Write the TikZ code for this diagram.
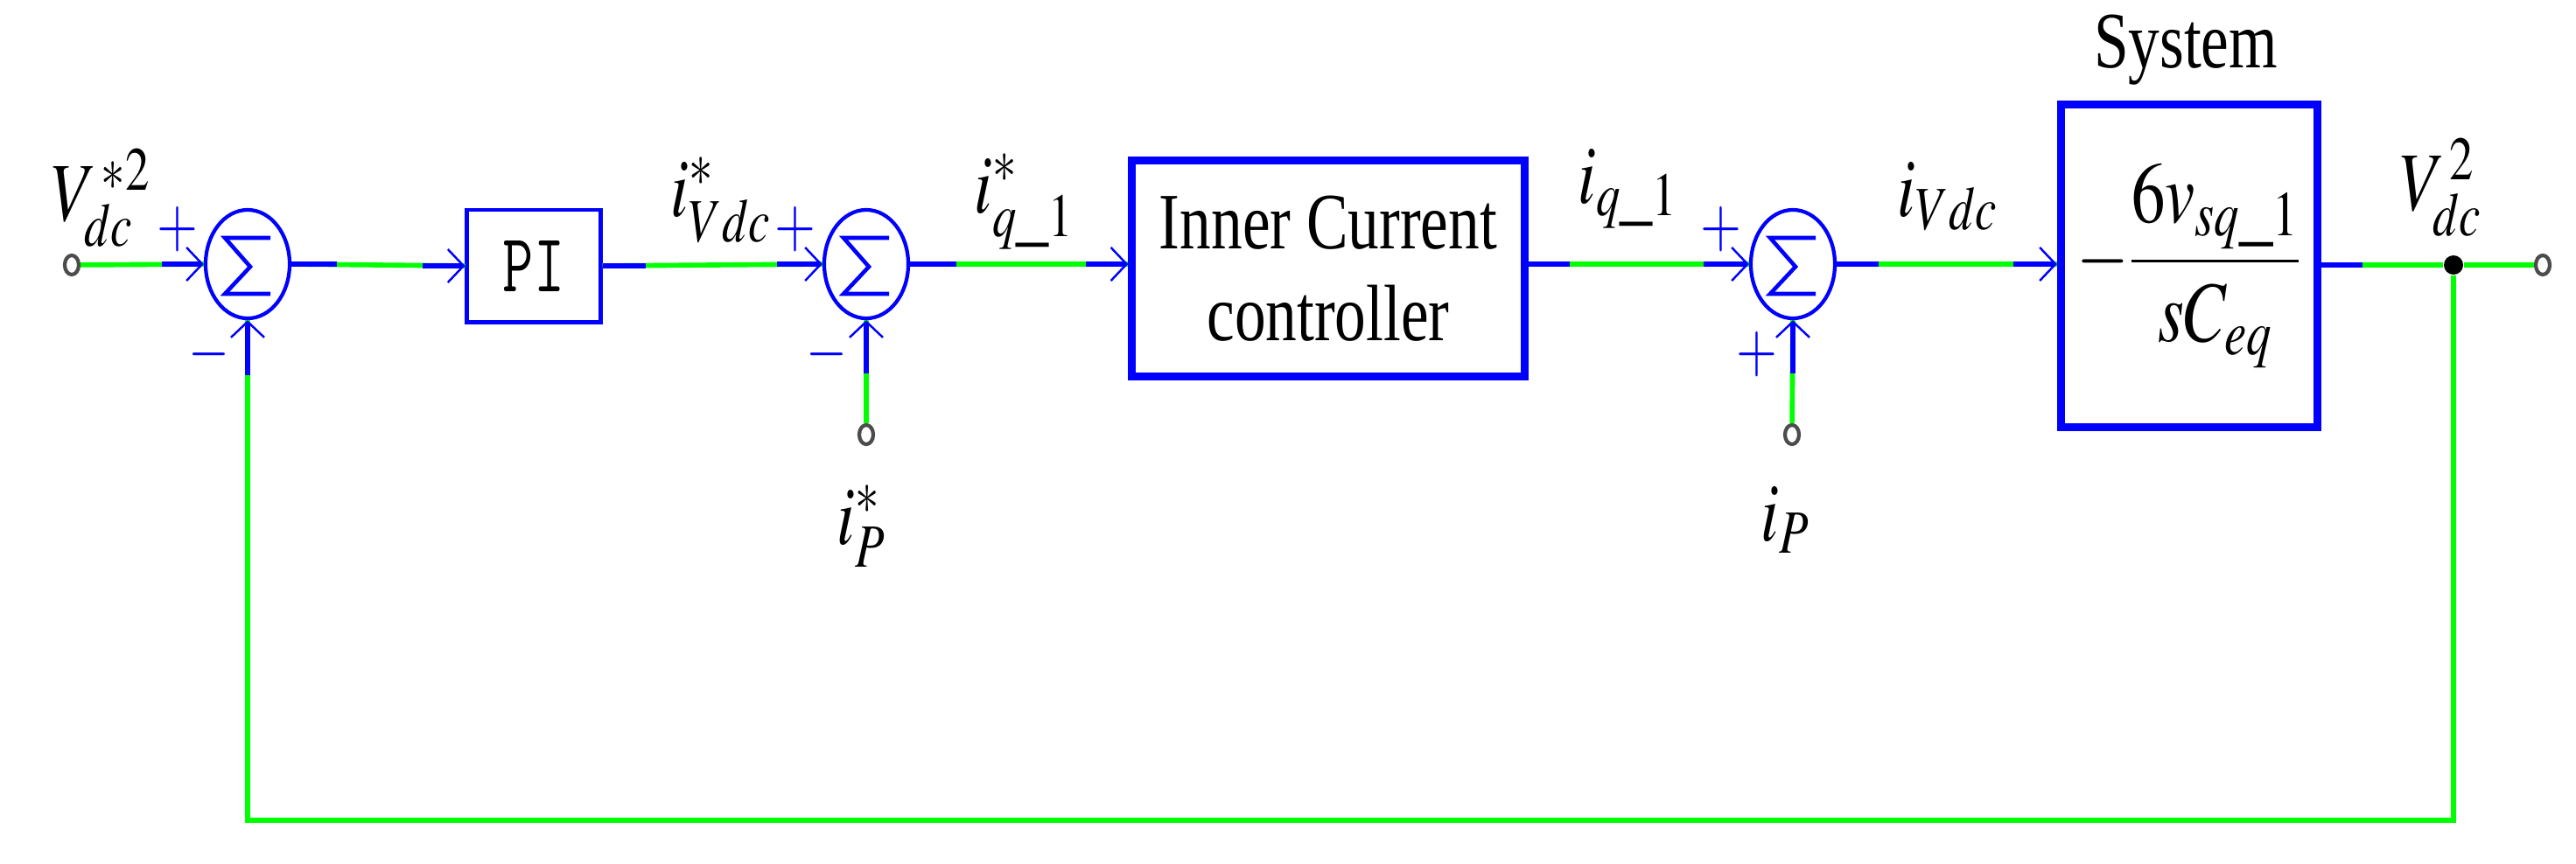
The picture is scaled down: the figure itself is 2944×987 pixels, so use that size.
\documentclass[tikz,border=0pt]{standalone}
\usepackage{mathptmx}
\usepackage{fontspec}
\setmainfont{Liberation Serif}
\usepackage{graphicx}
\usetikzlibrary{shapes.geometric,arrows.meta,calc}
\definecolor{pblue}{RGB}{0,0,255}
\definecolor{pgreen}{RGB}{0,255,0}
\newcommand\hsq[1]{\scalebox{0.78}[1]{#1}}
\tikzset{
  bl/.style={draw=pblue, line width=1.6pt},
  gr/.style={draw=pgreen, line width=1.6pt},
  arr/.style={-{Straight Barb[length=0.18cm,width=0.38cm,line width=0.7pt]}},
  sumnode/.style={ellipse, draw=pblue, line width=1.2pt, minimum width=0.96cm, minimum height=1.24cm, inner sep=0pt},
  smallbox/.style={rectangle, draw=pblue, line width=1.4pt, minimum width=1.52cm, minimum height=1.28cm, inner sep=0pt},
  bigbox/.style={rectangle, draw=pblue, line width=2.6pt, inner sep=0pt},
  term/.style={ellipse, draw=black!70, line width=1.2pt, fill=white, minimum width=0.16cm, minimum height=0.22cm, inner sep=0pt},
  junc/.style={circle, fill=black, minimum size=0.22cm, inner sep=0pt},
  lbl/.style={inner sep=0pt, font=\fontsize{27}{32}\selectfont},
  txt/.style={inner sep=0pt, font=\fontsize{26}{30}\selectfont},
  sgn/.style={inner sep=0pt, text=pblue, font=\fontsize{22}{26}\selectfont},
  sigma/.style={draw=pblue, line width=1.3pt, line join=miter},
}
\begin{document}
\begin{tikzpicture}[x=0.01cm, y=-0.01cm]
\useasboundingbox (0,0) rectangle (2944,987);

% blocks
\node[term] (in1) at (82,303) {};
\node[sumnode] (s1) at (283,302) {};
\node[smallbox, font=\fontsize{27}{30}\selectfont] (pi) at (610,304) {\scalebox{0.72}[1]{\ttfamily PI}};
\node[sumnode] (s2) at (990,302) {};
\node[bigbox, txt, align=center, minimum width=4.48cm, minimum height=2.47cm] (icc) at (1518,307) {\hsq{Inner Current}\\\hsq{controller}};
\node[sumnode] (s3) at (2049,302) {};
\node[bigbox, minimum width=2.93cm, minimum height=3.69cm, font=\fontsize{28}{32}\selectfont] (sys) at (2502,304) {\hsq{$\displaystyle -\frac{6v_{sq\_1}}{sC_{eq}}$}};
\node[junc] (dot) at (2804,303) {};
\node[term] (out) at (2906,303) {};
\node[term] (in2) at (990,497) {};
\node[term] (in3) at (2048,497) {};
\coordinate (c1) at (2804,938);
\coordinate (c2) at (283,938);

% sigma symbols
\foreach \s in {s1,s2,s3}{
  \draw[sigma] ([shift={(26,-30)}]\s.center) -- ([shift={(-26,-30)}]\s.center) -- ([shift={(3,3)}]\s.center) -- ([shift={(-26,34)}]\s.center) -- ([shift={(26,34)}]\s.center);
}

% connections
\draw[gr] (in1) -- (s1.west);
\draw[bl,arr] ($(s1.west)+(-48,0)$) -- (s1.west);

\draw[gr] (s1.east) -- (pi.west);
\draw[bl] (s1.east) -- ++(52,0);
\draw[bl,arr] ($(pi.west)+(-48,0)$) -- (pi.west);

\draw[gr] (pi.east) -- (s2.west);
\draw[bl] (pi.east) -- ++(49,0);
\draw[bl,arr] ($(s2.west)+(-52,0)$) -- (s2.west);

\draw[gr] (s2.east) -- (icc.west |- s2.east);
\draw[bl] (s2.east) -- ++(53,0);
\draw[bl,arr] ($(icc.west |- s2.east)+(-48,0)$) -- (icc.west |- s2.east);

\draw[gr] (icc.east |- s3.west) -- (s3.west);
\draw[bl] (icc.east |- s3.west) -- ++(47,0);
\draw[bl,arr] ($(s3.west)+(-52,0)$) -- (s3.west);

\draw[gr] (s3.east) -- (sys.west |- s3.east);
\draw[bl] (s3.east) -- ++(48,0);
\draw[bl,arr] ($(sys.west |- s3.east)+(-50,0)$) -- (sys.west |- s3.east);

\draw[gr] (sys.east |- dot) -- (dot);
\draw[bl] (sys.east |- dot) -- ++(47,0);
\draw[gr] (dot) -- (out);

\draw[gr] (dot) -- (c1) -- (c2) -- (s1.south);
\draw[bl,arr] ($(s1.south)+(0,63)$) -- (s1.south);

\draw[gr] (in2) -- (s2.south);
\draw[bl,arr] ($(s2.south)+(0,61)$) -- (s2.south);
\draw[gr] (in3) -- (s3.south);
\draw[bl,arr] ($(s3.south)+(0,61)$) -- (s3.south);

% signs
\node[sgn] (p1) at ([shift={(-80,-40)}]s1.center) {\hsq{$+$}};
\node[sgn] (m1) at ([shift={(-44,103)}]s1.center) {\hsq{$-$}};
\node[sgn] (p2) at ([shift={(-81,-40)}]s2.center) {\hsq{$+$}};
\node[sgn] (m2) at ([shift={(-45,103)}]s2.center) {\hsq{$-$}};
\node[sgn] (p3) at ([shift={(-82,-40)}]s3.center) {\hsq{$+$}};
\node[sgn] (p4) at ([shift={(-41,103)}]s3.center) {\hsq{$+$}};

% labels
\node[lbl, anchor=base west] (lvref) at (58,252) {\hsq{$V_{dc}^{\,*2}$}};
\node[lbl, anchor=base west] (livdcs) at (766,247) {\hsq{$i^{*}_{Vdc}$}};
\node[lbl, anchor=base west] (liqs) at (1113,243) {\hsq{$i^{*}_{q\_1}$}};
\node[lbl, anchor=base west] (lips) at (956,622) {\hsq{$i^{*}_{P}$}};
\node[lbl, anchor=base west] (liq) at (1803,232) {\hsq{$i_{q\_1}$}};
\node[lbl, anchor=base west] (livdc) at (2168,247) {\hsq{$i_{Vdc}$}};
\node[lbl, anchor=base west] (lip) at (2012,618) {\hsq{$i_{P}$}};
\node[lbl, anchor=base west] (lvdc) at (2742,240) {\hsq{$V_{dc}^{\,2}$}};
\node[txt, anchor=base] (lsys) at (2498,77) {\hsq{System}};
\end{tikzpicture}
\end{document}
